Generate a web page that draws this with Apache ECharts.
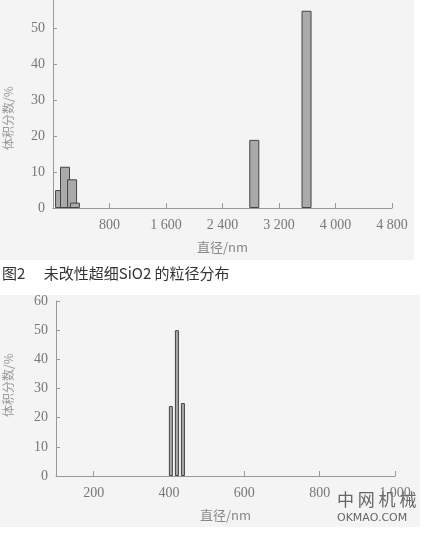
<!DOCTYPE html>
<html><head><meta charset="utf-8">
<script src="https://cdn.jsdelivr.net/npm/echarts@6/dist/echarts.min.js"></script>
<style>body{margin:0;background:#fff}#c{width:443px;height:533px}</style>
</head><body><div id="c"></div>
<script>
// 图2 未改性 (粒径 nm, 体积分数 %)
var sizes1 = [100, 170, 270, 310, 2850, 3590];
var vol1 = [5, 11.5, 8, 1.5, 19, 55];
var xTicks1 = [800, 1600, 2400, 3200, 4000, 4800];
var yTicks1 = [0, 10, 20, 30, 40, 50];
// 下图 改性后
var sizes2 = [405, 421, 437];
var vol2 = [24, 50, 25];
var xTicks2 = [200, 400, 600, 800, 1000];
var yTicks2 = [0, 10, 20, 30, 40, 50, 60];

var chart = echarts.init(document.getElementById('c'));
var serif = 'serif';
function fmt(v) {
    var s = String(v);
    return s.length > 3 ? s.slice(0, s.length - 3) + ' ' + s.slice(-3) : s;
}
function xAxis(idx, min, max, ticks, name, gap) {
    return {
        type: 'value', gridIndex: idx, min: min, max: max,
        name: name, nameLocation: 'middle', nameGap: gap,
        nameTextStyle: {fontFamily: 'Noto Sans CJK SC', fontSize: 13, color: '#888'},
        axisLine: {lineStyle: {color: '#999'}},
        axisTick: {inside: true, length: 5, customValues: ticks, lineStyle: {color: '#999'}},
        axisLabel: {customValues: ticks, formatter: fmt, fontFamily: serif, fontSize: 14, color: '#777', margin: 10},
        splitLine: {show: false}
    };
}
function yAxis(idx, max, ticks) {
    return {
        type: 'value', gridIndex: idx, min: 0, max: max,
        axisLine: {show: true, lineStyle: {color: '#999'}},
        axisTick: {show: true, inside: true, length: 4, customValues: ticks, lineStyle: {color: '#999'}},
        axisLabel: {customValues: ticks, fontFamily: serif, fontSize: 14, color: '#777', margin: 8},
        splitLine: {show: false}
    };
}
function pairs(xs, ys) {
    return xs.map(function (x, i) { return [x, ys[i]]; });
}
var barStyle = {color: '#aaaaaa', borderColor: '#444', borderWidth: 1};

chart.setOption({
    backgroundColor: '#fff',
    graphic: [
        {type: 'rect', shape: {x: 0, y: 0, width: 414, height: 260}, style: {fill: '#f4f4f4'}, z: -10},
        {type: 'rect', shape: {x: 0, y: 295, width: 420, height: 232}, style: {fill: '#f4f4f4'}, z: -10},
        {type: 'text', x: 2, y: 266, style: {text: '图2　 未改性超细SiO2 的粒径分布', font: '15px "Noto Sans CJK SC"', fill: '#333'}},
        {type: 'text', x: 8, y: 118, rotation: Math.PI / 2, style: {text: '体积分数/%', font: '12px "Noto Sans CJK SC"', fill: '#999', align: 'center', verticalAlign: 'middle'}},
        {type: 'text', x: 8, y: 385, rotation: Math.PI / 2, style: {text: '体积分数/%', font: '12px "Noto Sans CJK SC"', fill: '#999', align: 'center', verticalAlign: 'middle'}},
        {type: 'text', x: 337, y: 491, style: {text: '中 网 机 械', font: '17px "Noto Sans CJK SC"', fill: '#666'}},
        {type: 'text', x: 337, y: 513, style: {text: 'OKMAO.COM', font: '11px "DejaVu Sans"', fill: '#666'}}
    ],
    grid: [
        {left: 53, right: 51, top: 0, bottom: 325},
        {left: 56, right: 48, top: 301, bottom: 57}
    ],
    xAxis: [
        xAxis(0, 0, 4800, xTicks1, '直径/nm', 33),
        xAxis(1, 100, 1000, xTicks2, '直径/nm', 33)
    ],
    yAxis: [
        yAxis(0, 58, yTicks1),
        yAxis(1, 60, yTicks2)
    ],
    series: [
        {type: 'bar', xAxisIndex: 0, yAxisIndex: 0, barWidth: 10, barGap: '-100%',
         itemStyle: barStyle, data: pairs(sizes1, vol1)},
        {type: 'bar', xAxisIndex: 1, yAxisIndex: 1, barWidth: 4,
         itemStyle: barStyle, data: pairs(sizes2, vol2)}
    ]
});
</script></body></html>
